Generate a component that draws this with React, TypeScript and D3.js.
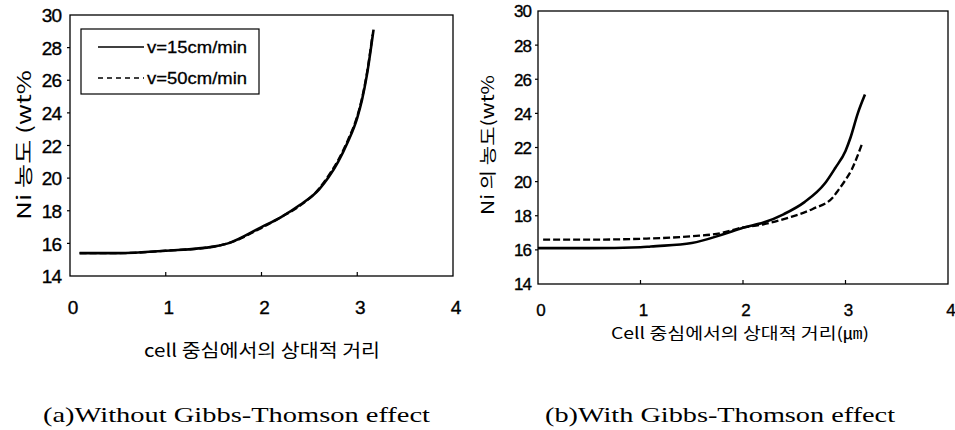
import React from "react";
import * as d3 from "d3";

// ---- data ----
const xTicks = [0, 1, 2, 3, 4];
const yTicks = [14, 16, 18, 20, 22, 24, 26, 28, 30];

const leftX15 = [0.1, 0.5, 1.0, 1.5, 1.65, 2.0, 2.2, 2.4, 2.6, 2.7, 2.8, 2.9, 3.0, 3.05, 3.1, 3.17];
const leftY15 = [15.4, 15.4, 15.55, 15.8, 16.0, 17.0, 17.6, 18.35, 19.3, 20.05, 21.0, 22.2, 23.7, 24.8, 26.3, 29.1];
const leftX50 = [0.1, 0.5, 1.0, 1.5, 1.65, 2.0, 2.2, 2.4, 2.6, 2.7, 2.8, 2.9, 3.0, 3.05, 3.1, 3.16];
const leftY50 = [15.4, 15.4, 15.55, 15.8, 16.0, 16.95, 17.6, 18.3, 19.35, 20.15, 21.1, 22.3, 23.8, 24.9, 26.4, 28.8];

const rightX15 = [0, 0.5, 1.0, 1.1, 1.5, 1.8, 2.0, 2.2, 2.4, 2.6, 2.8, 2.9, 3.0, 3.05, 3.12, 3.19];
const rightY15 = [16.1, 16.1, 16.15, 16.2, 16.4, 16.9, 17.3, 17.6, 18.1, 18.8, 19.9, 20.8, 21.8, 22.6, 24.0, 25.1];
const rightX50 = [0.05, 0.5, 1.0, 1.5, 1.8, 1.95, 2.2, 2.45, 2.68, 2.88, 2.93, 3.0, 3.06, 3.11, 3.16];
const rightY50 = [16.6, 16.6, 16.65, 16.8, 17.0, 17.25, 17.5, 17.9, 18.4, 19.1, 19.5, 20.1, 20.7, 21.4, 22.2];

const legendLabels = ["v=15cm/min", "v=50cm/min"];

const SANS = "'Liberation Sans', Arial, sans-serif";
const KR = "'Noto Sans CJK KR', 'Liberation Sans', sans-serif";
const SERIF = "'Liberation Serif', 'DejaVu Serif', serif";

type PanelProps = {
  x0: number; x1: number; y0: number; y1: number;
  s15: [number[], number[]]; s50: [number[], number[]];
  tickFont: number; xTickY: number; yTickX: number;
};

function Panel({ x0, x1, y0, y1, s15, s50, tickFont, xTickY, yTickX }: PanelProps) {
  const x = d3.scaleLinear().domain([0, 4]).range([x0, x1]);
  const y = d3.scaleLinear().domain([14, 30]).range([y1, y0]);
  const line = d3.line<[number, number]>().x(d => x(d[0])).y(d => y(d[1])).curve(d3.curveMonotoneX);
  const pts15 = s15[0].map((v, i) => [v, s15[1][i]] as [number, number]);
  const pts50 = s50[0].map((v, i) => [v, s50[1][i]] as [number, number]);
  return (
    <g>
      <rect x={x0} y={y0} width={x1 - x0} height={y1 - y0} fill="none" stroke="#000" strokeWidth={1.3} />
      {xTicks.slice(1, 4).map(t => (
        <line key={"xt" + t} x1={x(t)} x2={x(t)} y1={y1} y2={y1 - 4} stroke="#000" strokeWidth={1.2} />
      ))}
      {yTicks.slice(1, 8).map(t => (
        <line key={"yt" + t} x1={x0} x2={x0 - 3} y1={y(t)} y2={y(t)} stroke="#000" strokeWidth={1.2} />
      ))}
      {xTicks.map(t => (
        <text key={"xl" + t} x={x(t) + 3} y={xTickY} fontSize={tickFont} fontFamily={SANS} textAnchor="middle"
          stroke="#000" strokeWidth={0.35}>{t}</text>
      ))}
      {yTicks.map(t => (
        <text key={"yl" + t} x={yTickX} y={y(t) + tickFont * 0.38} fontSize={tickFont} fontFamily={SANS} textAnchor="end"
          letterSpacing={-1} stroke="#000" strokeWidth={0.35}>{t}</text>
      ))}
      <path d={line(pts50) || ""} fill="none" stroke="#000" strokeWidth={2.3} strokeDasharray="7,3" />
      <path d={line(pts15) || ""} fill="none" stroke="#000" strokeWidth={2.6} />
    </g>
  );
}

export default function App() {
  return (
    <svg width={955} height={430} style={{ position: "absolute", left: 0, top: 0, background: "#fff" }}>
      <rect width={955} height={430} fill="#fff" />
      <Panel x0={70} x1={453} y0={15} y1={276} s15={[leftX15, leftY15]} s50={[leftX50, leftY50]}
        tickFont={19} xTickY={314} yTickX={61} />
      <Panel x0={538} x1={948} y0={11} y1={284} s15={[rightX15, rightY15]} s50={[rightX50, rightY50]}
        tickFont={17} xTickY={316} yTickX={531} />

      {/* legend */}
      <rect x={81} y={29} width={178} height={65} fill="#fff" stroke="#000" strokeWidth={1.2} />
      <line x1={98} x2={144} y1={47} y2={47} stroke="#000" strokeWidth={1.5} />
      <line x1={98} x2={144} y1={78} y2={78} stroke="#000" strokeWidth={1.5} strokeDasharray="5,4" />
      <text x={147} y={53} fontSize={17} fontFamily={SANS} textLength={100} lengthAdjust="spacingAndGlyphs"
        stroke="#000" strokeWidth={0.3}>{legendLabels[0]}</text>
      <text x={147} y={84} fontSize={17} fontFamily={SANS} textLength={100} lengthAdjust="spacingAndGlyphs"
        stroke="#000" strokeWidth={0.3}>{legendLabels[1]}</text>

      {/* axis titles */}
      <text transform="translate(31,145) rotate(-90)" fontSize={19} fontFamily={KR} textAnchor="middle"
        textLength={150} lengthAdjust="spacingAndGlyphs">Ni 농도 (wt%</text>
      <text transform="translate(494,145) rotate(-90)" fontSize={17} fontFamily={KR} textAnchor="middle"
        textLength={140} lengthAdjust="spacingAndGlyphs">Ni 의 농도(wt%</text>
      <text x={262} y={357} fontSize={18} fontFamily={KR} textAnchor="middle"
        textLength={236} lengthAdjust="spacingAndGlyphs">cell 중심에서의 상대적 거리</text>
      <text x={740} y={339} fontSize={16} fontFamily={KR} textAnchor="middle"
        textLength={258} lengthAdjust="spacingAndGlyphs">Cell 중심에서의 상대적 거리(㎛)</text>

      {/* captions */}
      <text x={43} y={422} fontSize={22} fontFamily={SERIF} textLength={387} lengthAdjust="spacingAndGlyphs">(a)Without Gibbs-Thomson effect</text>
      <text x={545} y={422} fontSize={22} fontFamily={SERIF} textLength={350} lengthAdjust="spacingAndGlyphs">(b)With Gibbs-Thomson effect</text>
    </svg>
  );
}
